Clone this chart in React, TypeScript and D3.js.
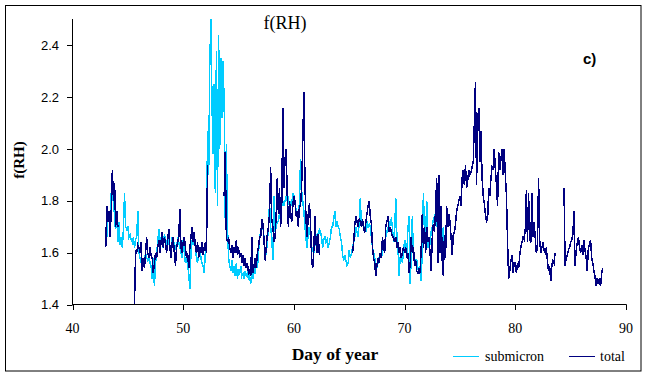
import React from "react";
import * as d3 from "d3";

const _ = null;
const START_DAY = 43.0;
const STEP = 0.1;

// submicron f(RH), one row per day (43.0 .. 73.6)
const submicron: (number | null)[] = [
  1.68,1.66,1.73,1.75,1.74,1.83,1.80,1.85,1.72,1.69,
  1.74,1.64,1.72,1.63,1.66,1.62,1.69,1.83,1.70,1.69,
  1.70,1.66,1.67,1.65,1.64,1.66,1.62,1.65,1.66,1.76,
  1.60,1.58,1.56,1.55,1.58,1.56,1.60,1.58,1.57,1.59,
  1.56,1.55,1.50,1.58,1.47,1.56,1.60,1.64,1.69,1.62,
  1.66,1.64,1.62,1.67,1.65,1.63,1.66,1.64,1.62,1.60,
  1.66,1.62,1.64,1.61,1.63,1.65,1.64,1.62,1.60,1.58,
  1.65,1.60,1.56,1.58,1.55,1.52,1.46,1.60,1.65,1.63,
  1.67,1.62,1.58,1.56,1.60,1.62,1.58,1.56,1.55,1.52,
  1.60,1.62,2.07,1.90,2.33,2.50,2.18,1.98,2.25,1.83,
  2.38,1.78,2.44,2.00,2.35,2.12,2.34,2.18,1.73,2.02,
  1.70,1.58,1.55,1.53,1.57,1.52,1.55,1.51,1.56,1.50,
  1.53,1.52,1.55,1.51,1.52,1.50,1.53,1.51,1.52,1.50,
  1.51,1.48,1.52,1.50,1.54,1.52,1.56,1.54,1.60,1.66,
  1.68,1.71,1.70,1.66,1.58,1.60,1.64,1.70,1.79,1.70,
  1.66,1.57,1.82,1.68,1.70,1.72,1.72,1.75,1.74,1.78,
  1.80,1.78,1.80,1.82,1.80,1.81,1.78,1.80,1.78,1.83,
  1.82,1.80,1.76,1.74,1.76,1.79,1.96,1.84,1.80,1.76,
  1.70,1.65,1.62,1.68,1.70,1.66,1.60,1.62,1.60,1.63,
  1.65,1.67,1.66,1.69,1.68,1.66,1.62,1.65,1.66,1.64,
  1.65,1.62,1.64,1.66,1.70,1.70,1.73,1.76,1.70,1.72,
  1.70,1.69,1.66,1.64,1.59,1.57,1.59,1.57,1.55,1.56,
  1.61,1.58,1.60,1.62,1.64,1.66,1.70,1.68,1.66,1.72,
  1.81,1.70,1.72,1.70,1.70,1.68,1.72,1.70,1.71,1.70,
  1.66,1.62,1.60,1.58,1.56,1.54,1.56,1.58,1.60,1.58,
  1.60,1.62,1.62,1.66,1.68,1.70,1.68,1.72,1.73,1.70,
  1.64,1.68,1.81,1.67,1.62,1.51,1.58,1.60,1.56,1.60,
  1.65,1.64,1.60,1.69,1.74,1.48,1.58,1.74,1.57,1.58,
  1.56,1.57,1.54,1.52,1.55,1.49,1.62,1.83,1.68,1.66,
  1.80,1.62,1.65,1.64,1.68,1.70,1.73,1.74,1.72,1.70,
  1.72,1.70,1.68,1.72,1.66,1.70,1.62,
];

// total f(RH), one row per day (43.0 .. 87.9), null = no data
const total: (number | null)[] = [
  1.62,1.78,1.72,1.76,1.66,1.76,1.92,1.80,1.87,1.70,
  1.76,1.70,_,_,_,_,_,_,_,_,
  _,_,_,_,_,_,1.40,1.61,1.60,1.63,
  1.62,1.60,1.64,1.53,1.58,1.54,1.60,1.66,1.60,1.58,
  1.62,1.59,1.58,1.52,1.56,1.60,1.58,1.62,1.65,1.60,
  1.64,1.68,1.62,1.66,1.64,1.60,1.65,1.69,1.62,1.58,
  1.64,1.66,1.60,1.55,1.62,1.64,1.66,1.77,1.62,1.60,
  1.64,1.66,1.62,1.58,1.60,1.54,1.62,1.66,1.70,1.64,
  1.68,1.62,1.60,1.64,1.58,1.62,1.60,1.64,1.59,1.62,
  1.64,1.60,1.94,_,_,_,_,_,_,_,
  _,_,_,_,_,_,_,1.82,1.99,1.66,
  1.64,1.66,1.62,1.60,1.63,1.58,1.62,1.60,1.65,1.59,
  1.62,1.58,1.60,1.56,1.59,1.55,1.58,1.54,1.56,1.52,
  1.53,1.51,1.66,1.52,1.55,1.58,1.54,1.60,1.62,1.66,
  1.66,1.73,1.71,1.65,1.57,1.62,1.67,1.70,1.75,1.93,
  1.73,1.70,1.64,1.66,1.75,1.89,1.75,1.85,1.70,1.78,
  2.16,1.85,1.96,2.00,1.82,1.70,1.80,1.75,1.72,1.78,
  1.82,1.80,1.74,1.76,1.70,1.78,1.78,1.86,2.03,2.22,
  1.86,1.72,1.66,1.75,1.79,1.72,1.57,1.54,1.61,1.74,
  1.64,1.60,1.67,1.59,_,_,_,_,_,_,
  _,_,_,_,_,_,_,_,_,_,
  _,_,_,_,_,_,_,_,_,_,
  _,_,_,1.60,1.64,1.71,1.74,1.72,1.70,1.73,
  1.72,1.70,1.73,1.69,1.68,1.72,1.75,1.78,1.80,1.74,
  1.71,1.62,1.58,1.56,1.51,1.55,1.58,1.56,1.60,1.58,
  1.66,1.62,1.60,1.70,1.72,1.74,1.68,1.70,1.68,1.66,
  1.66,1.64,1.66,1.62,1.64,1.60,1.62,1.58,1.60,1.62,
  1.60,1.62,1.58,1.60,1.52,1.55,1.66,1.60,1.62,1.55,
  1.57,1.53,1.52,1.54,1.52,1.62,1.75,1.62,1.70,1.60,
  1.70,1.64,1.66,1.60,1.53,1.66,1.71,1.68,1.77,1.89,
  1.56,1.90,1.60,1.78,1.57,1.51,1.67,1.58,1.78,1.70,
  1.75,1.72,1.66,1.59,1.67,1.68,1.71,1.76,1.78,1.80,
  1.82,1.78,1.89,1.92,1.86,1.94,1.85,1.88,1.92,1.90,
  1.91,1.93,1.95,2.10,2.26,1.86,2.11,2.16,1.95,2.07,
  1.89,1.82,1.79,1.75,1.72,1.73,1.85,1.82,1.89,1.93,
  1.92,2.00,1.92,1.86,1.78,1.99,1.92,1.96,2.00,1.90,
  2.00,1.90,1.82,1.64,1.50,1.53,1.57,1.59,1.52,1.56,
  1.56,1.52,1.56,1.54,1.59,1.62,1.64,1.66,1.65,1.69,
  1.84,1.64,1.83,1.65,1.64,1.83,1.66,1.72,1.66,1.60,
  1.62,1.89,1.65,1.60,1.62,1.64,1.61,1.60,1.62,1.57,
  1.53,1.55,1.49,1.55,1.57,1.56,1.60,_,_,_,
  _,_,_,_,1.85,1.55,1.58,1.59,1.61,1.62,
  1.64,1.65,1.67,1.76,1.55,1.61,1.64,1.66,1.62,1.60,
  1.63,1.59,1.65,1.61,1.58,1.53,1.62,1.63,1.65,1.58,
  1.56,1.53,1.51,1.47,1.50,1.48,1.50,1.47,1.52,1.54,
];

const xTicks = [40, 50, 60, 70, 80, 90];
const yTicks = [1.4, 1.6, 1.8, 2.0, 2.2, 2.4];
const yTickLabels = ["1.4", "1.6", "1.8", "2.0", "2.2", "2.4"];
const seriesNames = ["submicron", "total"];
const seriesColors = ["#00CCFF", "#000080"];

const W = 647;
const H = 377;

export default function App() {
  const x = d3.scaleLinear().domain([40, 90]).range([72.5, 626]);
  const y = d3.scaleLinear().domain([1.4, 2.5]).range([304.5, 19.5]);

  const line = d3
    .line<number | null>()
    .defined((d) => d != null)
    .x((_d, i) => x(START_DAY + i * STEP))
    .y((d) => y(d as number));

  const serif = "'Liberation Serif', 'Times New Roman', serif";
  const sans = "'Liberation Sans', Arial, sans-serif";

  return (
    <div style={{ position: "absolute", left: 0, top: 0 }}>
      <svg width={W} height={H} style={{ display: "block", background: "#fff" }}>
        <rect x={5.5} y={5.5} width={635.5} height={365.5} fill="#fff" stroke="#000" strokeWidth={1} />

        <text x={285} y={29} textAnchor="middle" fontFamily={serif} fontSize={18}>f(RH)</text>
        <text x={583} y={64} fontFamily={sans} fontSize={15} fontWeight="bold">c)</text>

        {/* data */}
        <path d={line(submicron) || ""} fill="none" stroke={seriesColors[0]} strokeWidth={1.5} strokeLinejoin="miter" shapeRendering="crispEdges" />
        <path d={line(total) || ""} fill="none" stroke={seriesColors[1]} strokeWidth={1.5} strokeLinejoin="miter" shapeRendering="crispEdges" />

        {/* y axis */}
        <line x1={72.5} x2={72.5} y1={19} y2={305} stroke="#000" strokeWidth={1} />
        {yTicks.map((t, i) => (
          <g key={"y" + t}>
            <line x1={67} x2={72.5} y1={Math.round(y(t)) + 0.5} y2={Math.round(y(t)) + 0.5} stroke="#000" />
            <text x={59} y={y(t) + 4.5} textAnchor="end" fontFamily={sans} fontSize={13}>{yTickLabels[i]}</text>
          </g>
        ))}

        {/* x axis */}
        <line x1={72} x2={626.5} y1={304.5} y2={304.5} stroke="#000" strokeWidth={1} />
        {xTicks.map((t) => (
          <g key={"x" + t}>
            <line x1={Math.round(x(t)) + 0.5} x2={Math.round(x(t)) + 0.5} y1={304.5} y2={310} stroke="#000" />
            <text x={x(t)} y={333} textAnchor="middle" fontFamily={serif} fontSize={14}>{t}</text>
          </g>
        ))}

        <text x={335} y={360} textAnchor="middle" fontFamily={serif} fontSize={17.5} fontWeight="bold">Day of year</text>
        <text transform="translate(24,160) rotate(-90)" textAnchor="middle" fontFamily={serif} fontSize={15} fontWeight="bold">f(RH)</text>

        {/* legend */}
        <line x1={453} x2={479} y1={356.5} y2={356.5} stroke={seriesColors[0]} strokeWidth={1} />
        <text x={485} y={361} fontFamily={serif} fontSize={14}>{seriesNames[0]}</text>
        <line x1={569} x2={595} y1={356.5} y2={356.5} stroke={seriesColors[1]} strokeWidth={1} />
        <text x={600} y={361} fontFamily={serif} fontSize={14}>{seriesNames[1]}</text>
      </svg>
    </div>
  );
}
